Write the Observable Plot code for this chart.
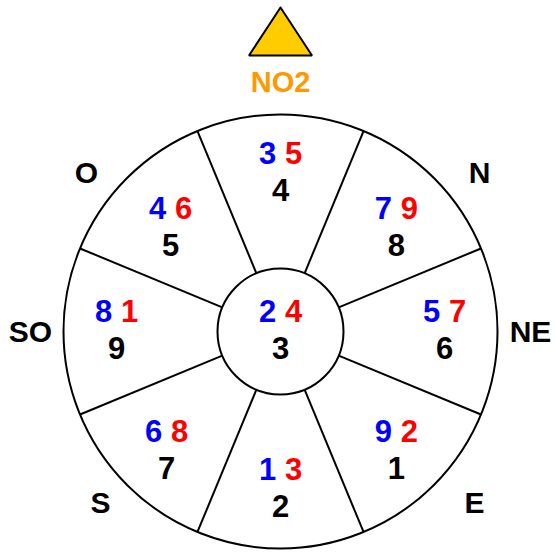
<!DOCTYPE html>
<html><head><meta charset="utf-8">
<script src="https://cdn.jsdelivr.net/npm/d3@7"></script>
<script src="https://cdn.jsdelivr.net/npm/@observablehq/plot@0.6"></script>
<style>body{margin:0;background:#fff}</style>
</head><body><div id="chart"></div>
<script>
// Sectors, clockwise from the top (angle in degrees from "up")
const sectorAngles   = [0, 45, 90, 135, 180, 225, 270, 315];
const mountainStars  = [3, 7, 5, 9, 1, 6, 8, 4];   // blue
const waterStars     = [5, 9, 7, 2, 3, 8, 1, 6];   // red
const baseStars      = [4, 8, 6, 1, 2, 7, 9, 5];   // black
// Centre palace
const centerMountain = 2, centerWater = 4, centerBase = 3;
// Direction labels
const directionNames  = ["N", "NE", "E", "S", "SO", "O"];
const directionAngles = [45, 90, 135, 225, 270, 315];
const facingLabel = "NO2";

// ---- layout (not data) ----
const R_OUT = 217, R_IN = 63;
const rad = d => d * Math.PI / 180;
const isDiag = a => a % 90 !== 0;
const polar = (a, r) => ({x: r * Math.sin(rad(a)), y: r * Math.cos(rad(a))});
// small hand-tuned nudges (pixels) of the text blocks, keyed by angle
const cellNudge  = {315: [6, 0], 225: [2, 0]};
const labelNudge = {225: [14, 0], 45: [5, 0]};

const cells = sectorAngles.map((a, i) => {
  const [nx, ny] = cellNudge[a] || [0, 0];
  return {
    x: 164 * Math.sin(rad(a)) + nx,
    y: 158 * Math.cos(rad(a)) - (isDiag(a) ? 8 : 0) + ny,
    m: mountainStars[i], w: waterStars[i], b: baseStars[i]
  };
});
cells.push({x: 0, y: 0, m: centerMountain, w: centerWater, b: centerBase});

const dividers = sectorAngles.map(a => {
  const p1 = polar(a + 22.5, R_IN), p2 = polar(a + 22.5, R_OUT);
  return {x1: p1.x, y1: p1.y, x2: p2.x, y2: p2.y};
});

const labels = directionNames.map((n, i) => {
  const a = directionAngles[i];
  const [nx, ny] = labelNudge[a] || [0, 0];
  if (!isDiag(a)) { const p = polar(a, 250); return {x: p.x + nx, y: p.y - 1 + ny, name: n}; }
  const sx = Math.sign(Math.sin(rad(a))), sy = Math.sign(Math.cos(rad(a)));
  return {x: sx * 194 + nx, y: sy * 165 - 7 + ny, name: n};
});

const pointer = [[0, 324], [-31.5, 276], [31.5, 276], [0, 324]].map(([x, y]) => ({x, y}));

const font = {fontFamily: "'Liberation Sans', Arial, sans-serif", fontWeight: "bold", fontSize: 31};

const chart = Plot.plot({
  width: 555, height: 552,
  margin: 0,
  x: {domain: [-280, 275], range: [0, 555], axis: null},
  y: {domain: [331, -221], range: [0, 552], axis: null},
  r: {type: "identity"},
  marks: [
    Plot.dot([R_OUT, R_IN], {x: 0, y: 0, r: d => d, stroke: "black", strokeWidth: 2, fill: "none"}),
    Plot.link(dividers, {x1: "x1", y1: "y1", x2: "x2", y2: "y2", stroke: "black", strokeWidth: 2}),
    Plot.text(cells, {x: "x", y: "y", text: "m", dx: -13, dy: -19, fill: "#0000ff", ...font}),
    Plot.text(cells, {x: "x", y: "y", text: "w", dx: 13, dy: -19, fill: "#ff0000", ...font}),
    Plot.text(cells, {x: "x", y: "y", text: "b", dy: 18, fill: "black", ...font}),
    Plot.text(labels, {x: "x", y: "y", text: "name", fill: "black", ...font, fontSize: 30}),
    Plot.line(pointer, {x: "x", y: "y", fill: "#ffcc00", stroke: "black", strokeWidth: 2, strokeLinejoin: "miter"}),
    Plot.text([facingLabel], {x: 0, y: 249, text: d => d, fill: "#ff9900", ...font, fontSize: 29})
  ]
});
document.getElementById("chart").appendChild(chart);
</script>
</body></html>
